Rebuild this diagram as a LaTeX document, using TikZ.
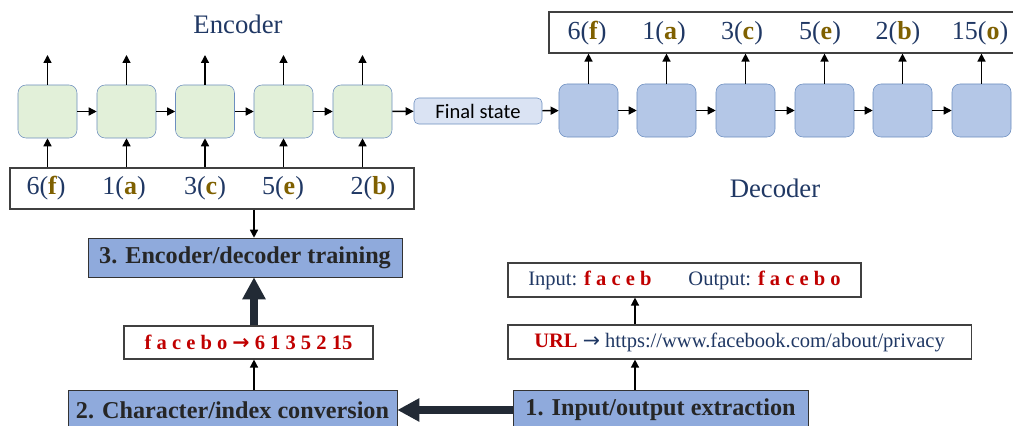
\documentclass[tikz,border=0pt]{standalone}
\usepackage{fontspec}
\setmainfont{Liberation Serif}
\newfontfamily\calibri{Carlito}
\newfontfamily\arrowfont{DejaVu Sans}
\usetikzlibrary{arrows.meta}
\definecolor{navy}{HTML}{203864}
\definecolor{gold}{HTML}{7F6000}
\definecolor{darkred}{HTML}{C00000}
\definecolor{encfill}{HTML}{E2F0D9}
\definecolor{decfill}{HTML}{B4C7E7}
\definecolor{cellline}{HTML}{6C8EBF}
\definecolor{statefill}{HTML}{DAE3F3}
\definecolor{stepfill}{HTML}{8FAADC}
\definecolor{thickarr}{HTML}{222A35}
\tikzset{>=stealth}
\newcommand{\ch}[2]{#1(\textbf{\color{gold}#2})}
\newcommand{\red}[1]{\textbf{\color{darkred}#1}}
\newcommand{\toarrow}{{\arrowfont\bfseries →}}

\tikzset{
  cell/.style={draw=cellline, rounded corners=0.2cm, minimum width=1.475cm, minimum height=1.325cm, inner sep=0pt},
  enccell/.style={cell, fill=encfill},
  deccell/.style={cell, fill=decfill},
  box/.style={draw=black!75, line width=0.8pt, inner sep=0pt},
  stepbox/.style={draw=black!80, fill=stepfill, inner sep=0pt, text=black!85, font=\fontsize{17.2}{20}\selectfont\bfseries},
  lab/.style={text=navy, font=\fontsize{18.5}{20}\selectfont},
  small/.style={text=navy, font=\fontsize{14.6}{16}\selectfont},
  arr/.style={-{Triangle[length=0.2cm,width=0.2cm]}, line width=1pt},
  bigarr/.style={-{Triangle[length=0.55cm,width=0.55cm]}, line width=0.18cm, draw=thickarr},
}

\begin{document}
\begin{tikzpicture}[x=0.025cm, y=-0.025cm]
\useasboundingbox (0,0) rectangle (1013,426);
\clip (0,0) rectangle (1013,426);
% encoder
\node[lab, font=\fontsize{19}{20}\selectfont] (enc) at (238,24) {Encoder};
\foreach \i/\x in {1/47.5, 2/126.5, 3/205, 4/283.5, 5/362.5} {
  \node[enccell] (e\i) at (\x,111.5) {};
  \coordinate (eo\i) at (\x,55);
  \draw[arr] (e\i) -- (eo\i);
}
\foreach \i [count=\j from 2] in {1,...,4}
  \draw[arr] (e\i) -- (e\j);
\node[box, minimum width=10.1cm, minimum height=1.025cm] (inbox) at (212,188.5) {};
\foreach \x/\n/\c [count=\i] in {46/6/f, 124/1/a, 205/3/c, 283/5/e, 373/2/b}
  \node[lab] (in\i) at (\x,188.5) {\ch{\n}{\c}};
\foreach \i in {1,...,5}
  \draw[arr] (inbox.north -| e\i) -- (e\i);

% final state
\node[draw=cellline, fill=statefill, rounded corners=0.12cm, minimum width=3.2cm, minimum height=0.65cm,
  font=\calibri\fontsize{14.6}{16}\selectfont] (final) at (478,111) {Final state};
\draw[arr] (e5) -- (final);

% decoder
\foreach \i/\x in {1/588.5, 2/666.5, 3/745.5, 4/824.5, 5/902.5, 6/981.5}
  \node[deccell] (d\i) at (\x,110.5) {};
\draw[arr] (final) -- (d1);
\foreach \i [count=\j from 2] in {1,...,5}
  \draw[arr] (d\i) -- (d\j);
\node[box, minimum width=11.9cm, minimum height=1.025cm] (outbox) at (787,32.5) {};
\foreach \x/\n/\c [count=\i] in {587/6/f, 664/1/a, 742/3/c, 820/5/e, 898/2/b, 980/15/o}
  \node[lab] (out\i) at (\x,33) {\ch{\n}{\c}};
\foreach \i in {1,...,6}
  \draw[arr] (d\i) -- (d\i |- outbox.south);
\node[lab, font=\fontsize{19}{20}\selectfont] (dec) at (775,188) {Decoder};

% pipeline
\coordinate (spine) at (254,0);
\coordinate (urlx) at (635,0);
\node[stepbox, minimum width=7.85cm, minimum height=0.975cm] (train) at (245,257.5) {3. Encoder/decoder training};
\draw[arr] (inbox.south -| spine) -- (train.north -| spine);
\node[box, minimum width=6.225cm, minimum height=0.825cm, text=darkred,
  font=\fontsize{14.6}{16}\selectfont\bfseries] (map) at (248.5,342.5) {f a c e b o \toarrow\ 6 1 3 5 2 15};
\draw[bigarr] (map.north -| spine) -- (train.south -| spine);
\node[stepbox, minimum width=8.225cm, minimum height=1cm] (conv) at (232.5,410) {2. Character/index conversion};
\draw[arr] (conv.north -| spine) -- (map.south -| spine);

\node[stepbox, minimum width=7.375cm, minimum height=1cm] (extract) at (660.5,410) {1. Input/output extraction};
\draw[bigarr] (extract) -- (conv);
\node[box, small, minimum width=11.575cm, minimum height=0.85cm] (url) at (739.5,342)
  {\red{URL} {\arrowfont →} https://www.facebook.com/about/privacy};
\draw[arr] (extract.north -| urlx) -- (url.south -| urlx);
\node[box, small, minimum width=8.825cm, minimum height=0.85cm] (io) at (684.5,280)
  {Input: \red{f a c e b}\hspace{1.8em}Output: \red{f a c e b o}};
\draw[arr] (url.north -| urlx) -- (io.south -| urlx);
\end{tikzpicture}
\end{document}
